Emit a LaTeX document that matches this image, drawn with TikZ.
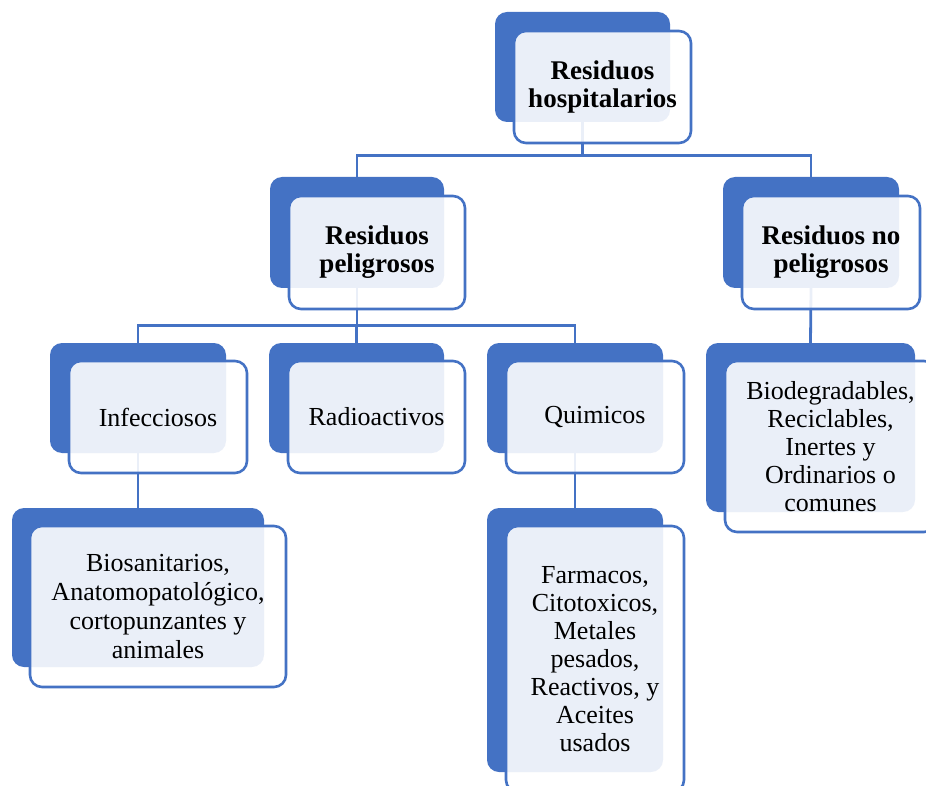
\documentclass[tikz,border=0pt]{standalone}
\usepackage{fontspec}
\setmainfont{Liberation Serif}
\definecolor{hblue}{RGB}{68,114,196}
\tikzset{
  backbox/.style={rectangle, rounded corners=12pt, fill=hblue, inner sep=0pt},
  frontbox/.style={rectangle, rounded corners=12pt, draw=hblue, line width=2.6pt,
    fill=white, fill opacity=0.89, text opacity=1, inner sep=0pt, align=center,
    font=\fontsize{26}{28}\selectfont},
  conn/.style={draw=hblue, line width=2.8pt},
}

\begin{document}
\begin{tikzpicture}[x=1pt,y=-1pt]
  \useasboundingbox (0,0) rectangle (926,786);
  % back boxes
  \node[backbox, minimum width=175pt, minimum height=110pt] (hosp) at (582.5,67) {};
  \node[backbox, minimum width=174pt, minimum height=111pt] (pel) at (357,232.5) {};
  \node[backbox, minimum width=176pt, minimum height=111pt] (nopel) at (811,232.5) {};
  \node[backbox, minimum width=176pt, minimum height=110pt] (inf) at (138,398) {};
  \node[backbox, minimum width=175pt, minimum height=110pt] (rad) at (356.5,398) {};
  \node[backbox, minimum width=176pt, minimum height=110pt] (quim) at (575,398) {};
  \node[backbox, minimum width=209pt, minimum height=169pt] (bio) at (810.5,427.5) {};
  \node[backbox, minimum width=252pt, minimum height=159pt] (san) at (138,587.5) {};
  \node[backbox, minimum width=176pt, minimum height=264pt] (farm) at (575,640) {};
  % connectors
  \draw[conn] (hosp.south) -- ++(0,33) -| (pel.north);
  \draw[conn] (hosp.south) -- ++(0,33) -| (nopel.north);
  \draw[conn] (pel.south) -- ++(0,37) -| (inf.north);
  \draw[conn] (pel.south) -- ++(0,37) -| (rad.north);
  \draw[conn] (pel.south) -- ++(0,37) -| (quim.north);
  \draw[conn] (nopel.south) -- (bio.north);
  \draw[conn] (inf.south) -- (san.north);
  \draw[conn] (quim.south) -- (farm.north);
  % front boxes with text
  \node[frontbox, minimum width=177pt, minimum height=112pt, font=\fontsize{27}{28}\selectfont\bfseries]
    (hospT) at ([shift={(20,20)}]hosp) {Residuos\\hospitalarios};
  \node[frontbox, minimum width=176pt, minimum height=113pt, font=\fontsize{27}{28}\selectfont\bfseries]
    (pelT) at ([shift={(20,20)}]pel) {Residuos\\peligrosos};
  \node[frontbox, minimum width=178pt, minimum height=113pt, font=\fontsize{27}{28}\selectfont\bfseries]
    (nopelT) at ([shift={(20,20)}]nopel) {Residuos no\\peligrosos};
  \node[frontbox, minimum width=178pt, minimum height=112pt]
    (infT) at ([shift={(20,19)}]inf) {Infecciosos};
  \node[frontbox, minimum width=177pt, minimum height=112pt]
    (radT) at ([shift={(20,19)}]rad) {Radioactivos};
  \node[frontbox, minimum width=178pt, minimum height=112pt]
    (quimT) at ([shift={(20,19)}]quim) {Quimicos};
  \node[frontbox, minimum width=211pt, minimum height=171pt]
    (bioT) at ([shift={(20,19)}]bio) {Biodegradables,\\Reciclables,\\Inertes y\\Ordinarios o\\comunes};
  \node[frontbox, minimum width=256pt, minimum height=161pt, font=\fontsize{26}{29}\selectfont]
    (sanT) at ([shift={(20,19)}]san) {Biosanitarios,\\Anatomopatológico,\\cortopunzantes y\\animales};
  \node[frontbox, minimum width=178pt, minimum height=266pt]
    (farmT) at ([shift={(20,19)}]farm) {Farmacos,\\Citotoxicos,\\Metales\\pesados,\\Reactivos, y\\Aceites\\usados};
\end{tikzpicture}
\end{document}
